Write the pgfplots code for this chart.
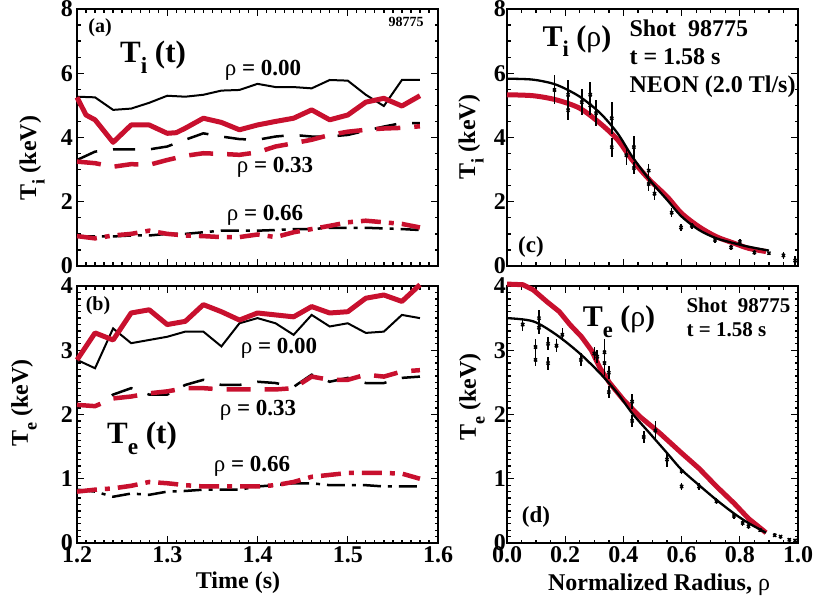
\documentclass[border=0pt]{standalone}
\usepackage{pgfplots}
\pgfplotsset{compat=1.18}
\usepackage{fontspec}
\setmainfont{Liberation Serif}
\definecolor{dred}{RGB}{200,16,46}

\newcommand{\sub}[1]{\raisebox{-0.36em}{\scalebox{0.75}{#1}}}
\newcommand{\rh}{{\mdseries ρ}}
\newcommand{\fs}[1]{\fontsize{#1}{#1}\selectfont\bfseries}

\pgfplotsset{
  panel/.style={
    scale only axis, anchor=south west,
    axis line style={line width=1.5pt},
    every tick/.style={black, line width=1.3pt},
    major tick length=7pt, minor tick length=3.5pt,
    tick align=inside,
    ticklabel style={font=\fs{24}},
    /pgf/number format/assume math mode=true,
    clip=false,
  },
  blk/.style={black, line width=2pt},
  blkdash/.style={black, line width=2.5pt, dash pattern=on 22pt off 16pt},
  blkdot/.style={black, line width=2.5pt, dash pattern=on 18pt off 7pt on 4pt off 7pt},
  rd/.style={dred, line width=5pt, line join=round},
  rddash/.style={dred, line width=4.5pt, dash pattern=on 24pt off 14pt},
  rddot/.style={dred, line width=4.5pt, dash pattern=on 20pt off 8pt on 5pt off 8pt},
}

\begin{document}
\begin{tikzpicture}[x=1pt,y=1pt]
\path[use as bounding box] (0,0) rectangle (813,603);

% (a) Ti(t)
\begin{axis}[panel, at={(77pt,337pt)}, width=361pt, height=257pt,
  xmin=1.2, xmax=1.6, ymin=0, ymax=8,
  xtick={1.2,1.3,1.4,1.5,1.6}, xticklabels={}, minor x tick num=9,
  ytick={0,2,4,6,8}, minor y tick num=3,
  yticklabel style={inner sep=1pt, xshift=-3pt}]
\addplot[blk] coordinates {
 (1.20,5.27) (1.22,5.25) (1.24,4.86) (1.26,4.90) (1.28,5.08) (1.30,5.30)
 (1.32,5.27) (1.34,5.33) (1.36,5.46) (1.38,5.48) (1.40,5.67) (1.42,5.57)
 (1.44,5.57) (1.46,5.53) (1.48,5.79) (1.50,5.77) (1.52,5.33) (1.54,4.98)
 (1.56,5.79) (1.58,5.79)};
\addplot[rd] coordinates {
 (1.20,5.25) (1.21,4.70) (1.22,4.55) (1.24,3.85) (1.26,4.39) (1.28,4.39)
 (1.30,4.13) (1.31,4.15) (1.32,4.29) (1.34,4.60) (1.36,4.47) (1.38,4.24)
 (1.40,4.39) (1.42,4.50) (1.44,4.60) (1.46,4.86) (1.48,4.55) (1.50,4.70)
 (1.52,5.10) (1.54,5.22) (1.56,4.98) (1.58,5.30)};
\addplot[blkdash] coordinates {
 (1.20,3.30) (1.22,3.56) (1.24,3.63) (1.26,3.63) (1.28,3.63) (1.30,3.72)
 (1.32,3.93) (1.34,4.13) (1.36,4.03) (1.38,3.95) (1.40,3.93) (1.42,4.03)
 (1.44,4.08) (1.46,4.03) (1.48,4.03) (1.50,4.08) (1.52,4.21) (1.54,4.34)
 (1.56,4.45) (1.58,4.45)};
\addplot[rddash] coordinates {
 (1.20,3.25) (1.22,3.20) (1.24,3.09) (1.26,3.17) (1.28,3.15) (1.30,3.30)
 (1.32,3.43) (1.34,3.51) (1.36,3.49) (1.38,3.46) (1.40,3.54) (1.42,3.72)
 (1.44,3.82) (1.46,3.93) (1.48,4.08) (1.50,4.18) (1.52,4.24) (1.54,4.28)
 (1.56,4.30) (1.58,4.35)};
\addplot[blkdot] coordinates {
 (1.20,0.93) (1.22,0.92) (1.24,0.92) (1.26,0.95) (1.28,0.95) (1.30,1.00)
 (1.32,1.00) (1.34,1.05) (1.36,1.10) (1.38,1.10) (1.40,1.10) (1.42,1.12)
 (1.44,1.15) (1.46,1.15) (1.48,1.19) (1.50,1.19) (1.52,1.19) (1.54,1.17)
 (1.56,1.15) (1.58,1.12)};
\addplot[rddot] coordinates {
 (1.20,0.93) (1.22,0.86) (1.24,0.95) (1.26,1.00) (1.28,1.10) (1.30,1.00)
 (1.32,0.95) (1.34,0.93) (1.36,0.90) (1.38,0.90) (1.40,0.98) (1.42,0.90)
 (1.44,1.05) (1.46,1.15) (1.48,1.25) (1.50,1.36) (1.52,1.41) (1.54,1.36)
 (1.56,1.31) (1.58,1.20)};
\end{axis}

% (b) Te(t)
\begin{axis}[panel, at={(77pt,60pt)}, width=361pt, height=257pt,
  xmin=1.2, xmax=1.6, ymin=0, ymax=4,
  xtick={1.2,1.3,1.4,1.5,1.6}, minor x tick num=9,
  xticklabel style={/pgf/number format/.cd, fixed, fixed zerofill, precision=1},
  ytick={0,1,2,3,4}, minor y tick num=9,
  yticklabel style={inner sep=1pt, xshift=-3pt}]
\addplot[blk] coordinates {
 (1.20,2.85) (1.22,2.72) (1.24,3.34) (1.26,3.11) (1.28,3.16) (1.30,3.21)
 (1.32,3.29) (1.34,3.29) (1.36,3.06) (1.38,3.42) (1.40,3.50) (1.42,3.42)
 (1.44,3.24) (1.46,3.55) (1.48,3.37) (1.50,3.42) (1.52,3.27) (1.54,3.29)
 (1.56,3.55) (1.58,3.50)};
\addplot[rd] coordinates {
 (1.20,2.85) (1.22,3.27) (1.24,3.16) (1.26,3.58) (1.28,3.63) (1.30,3.40)
 (1.32,3.45) (1.34,3.71) (1.36,3.60) (1.38,3.47) (1.40,3.58) (1.42,3.55)
 (1.44,3.52) (1.46,3.68) (1.48,3.58) (1.50,3.60) (1.52,3.81) (1.54,3.86)
 (1.56,3.76) (1.58,4.02)};
\addplot[blkdash] coordinates {
 (1.20,2.15) (1.22,2.13) (1.24,2.31) (1.26,2.41) (1.28,2.31) (1.30,2.31)
 (1.32,2.46) (1.34,2.54) (1.36,2.46) (1.38,2.46) (1.40,2.51) (1.42,2.49)
 (1.44,2.43) (1.46,2.62) (1.48,2.51) (1.50,2.57) (1.52,2.49) (1.54,2.49)
 (1.56,2.57) (1.58,2.59)};
\addplot[rddash] coordinates {
 (1.20,2.15) (1.22,2.13) (1.24,2.25) (1.26,2.28) (1.28,2.33) (1.30,2.36)
 (1.32,2.41) (1.34,2.41) (1.36,2.39) (1.38,2.39) (1.40,2.39) (1.42,2.39)
 (1.44,2.41) (1.46,2.59) (1.48,2.54) (1.50,2.54) (1.52,2.62) (1.54,2.59)
 (1.56,2.67) (1.58,2.69)};
\addplot[blkdot] coordinates {
 (1.20,0.83) (1.22,0.80) (1.24,0.72) (1.26,0.77) (1.28,0.75) (1.30,0.80)
 (1.32,0.81) (1.34,0.83) (1.36,0.83) (1.38,0.83) (1.40,0.88) (1.42,0.90)
 (1.44,0.93) (1.46,0.93) (1.48,0.90) (1.50,0.90) (1.52,0.90) (1.54,0.88)
 (1.56,0.88) (1.58,0.88)};
\addplot[rddot] coordinates {
 (1.20,0.80) (1.22,0.83) (1.24,0.85) (1.26,0.89) (1.28,0.95) (1.30,0.93)
 (1.32,0.90) (1.34,0.88) (1.36,0.88) (1.38,0.88) (1.40,0.88) (1.42,0.90)
 (1.44,0.95) (1.46,1.03) (1.48,1.06) (1.50,1.09) (1.52,1.09) (1.54,1.09)
 (1.56,1.08) (1.58,1.00)};
\end{axis}

% (c) Ti(rho)
\begin{axis}[panel, at={(507pt,337pt)}, width=291pt, height=257pt,
  xmin=0, xmax=1, ymin=0, ymax=8,
  xtick={0,0.2,0.4,0.6,0.8,1}, xticklabels={}, minor x tick num=3,
  ytick={0,2,4,6,8}, minor y tick num=3,
  yticklabel style={inner sep=1pt}]
\addplot[rd, smooth] coordinates {
 (0,5.33) (0.09,5.30) (0.17,5.17) (0.25,4.91) (0.32,4.44) (0.38,3.93)
 (0.43,3.30) (0.49,2.68) (0.55,2.16) (0.60,1.64) (0.66,1.22) (0.72,0.91)
 (0.78,0.71) (0.83,0.55) (0.89,0.45)};
\addplot[blk, line width=2.3pt, smooth] coordinates {
 (0,5.83) (0.09,5.80) (0.17,5.64) (0.25,5.27) (0.32,4.76) (0.38,4.13)
 (0.43,3.41) (0.49,2.68) (0.55,2.06) (0.60,1.54) (0.66,1.12) (0.72,0.86)
 (0.78,0.71) (0.83,0.60) (0.90,0.48)};
\addplot[black, only marks, mark=x, mark size=2.2pt, line width=1.5pt,
  error bars/.cd, y dir=both, y explicit, error bar style={line width=1.5pt}, error mark=none]
  table[x=r, y=t, y error=e] {
 r t e
 0.163 5.48 0.45
 0.21 5.33 0.45
 0.21 4.85 0.30
 0.257 5.10 0.40
 0.286 5.33 0.40
 0.286 5.00 0.30
 0.306 4.76 0.40
 0.36 4.60 0.50
 0.36 3.70 0.30
 0.41 3.45 0.30
 0.436 3.70 0.35
 0.436 3.05 0.20
 0.487 2.97 0.20
 0.487 2.55 0.20
 0.507 2.25 0.20
 0.566 1.66 0.15
 0.598 1.20 0.12
 0.635 1.25 0.10
 0.715 0.81 0.08
 0.77 0.58 0.08
 0.80 0.75 0.08
 0.85 0.42 0.08
 0.90 0.40 0.05
 0.95 0.33 0.10
 0.99 0.17 0.15
 };
\end{axis}

% (d) Te(rho)
\begin{axis}[panel, at={(507pt,60pt)}, width=291pt, height=257pt,
  xmin=0, xmax=1, ymin=0, ymax=4,
  xtick={0,0.2,0.4,0.6,0.8,1}, minor x tick num=3,
  xticklabel style={/pgf/number format/.cd, fixed, fixed zerofill, precision=1},
  ytick={0,1,2,3,4}, minor y tick num=9,
  yticklabel style={inner sep=1pt}]
\addplot[rd] coordinates {
 (0,4.03) (0.055,4.02) (0.09,3.94) (0.136,3.76) (0.18,3.60) (0.216,3.40)
 (0.256,3.21) (0.29,3.00) (0.32,2.72) (0.353,2.49) (0.40,2.23) (0.456,1.97)
 (0.525,1.71) (0.60,1.40) (0.66,1.16) (0.72,0.88) (0.78,0.62) (0.83,0.38)
 (0.89,0.16)};
\addplot[blk, line width=2.3pt, smooth] coordinates {
 (0,3.50) (0.09,3.45) (0.17,3.24) (0.25,2.95) (0.32,2.64) (0.38,2.33)
 (0.43,2.02) (0.49,1.71) (0.55,1.40) (0.60,1.14) (0.66,0.90) (0.72,0.67)
 (0.78,0.46) (0.83,0.31) (0.89,0.16)};
\addplot[black, only marks, mark=x, mark size=2.2pt, line width=1.5pt,
  error bars/.cd, y dir=both, y explicit, error bar style={line width=1.5pt}, error mark=none]
  table[x=r, y=t, y error=e] {
 r t e
 0.054 3.40 0.10
 0.098 3.05 0.12
 0.098 2.85 0.10
 0.11 3.50 0.12
 0.11 3.35 0.10
 0.141 3.10 0.10
 0.141 2.80 0.10
 0.17 3.07 0.10
 0.19 3.24 0.10
 0.254 2.85 0.10
 0.30 2.95 0.10
 0.31 2.90 0.10
 0.335 2.97 0.20
 0.335 2.80 0.20
 0.35 2.65 0.10
 0.35 2.35 0.10
 0.43 2.20 0.12
 0.43 1.90 0.10
 0.47 1.65 0.10
 0.51 1.75 0.15
 0.55 1.30 0.12
 0.60 0.88 0.05
 0.60 1.12 0.05
 0.66 0.88 0.05
 0.72 0.65 0.05
 0.78 0.42 0.05
 0.81 0.31 0.05
 0.83 0.26 0.04
 0.87 0.20 0.03
 0.92 0.12 0.03
 0.94 0.10 0.03
 0.97 0.05 0.03
 0.99 0.04 0.03
 };
\end{axis}

% labels and annotations
\node[rotate=90, font=\fs{24}] at (32,445) {T\sub{i} (keV)};
\node[rotate=90, font=\fs{24}] at (24,200) {T\sub{e} (keV)};
\node[rotate=90, font=\fs{24}] at (471,466) {T\sub{i} (keV)};
\node[rotate=90, font=\fs{24}] at (472,206) {T\sub{e} (keV)};
\node[font=\fs{24}] at (238,20) {Time (s)};
\node[font=\fs{24}] at (659,18) {Normalized Radius, \rh};

\node[font=\fs{20}] at (100,575) {(a)};
\node[font=\fs{14}] at (406,581) {98775};
\node[font=\fs{31}] at (153,546) {T\sub{i} (t)};
\node[font=\fs{23}] at (263,533) {\rh{} = 0.00};
\node[font=\fs{23}] at (275,436) {\rh{} = 0.33};
\node[font=\fs{23}] at (265,388) {\rh{} = 0.66};

\node[font=\fs{20}] at (98,297) {(b)};
\node[font=\fs{23}] at (279,255) {\rh{} = 0.00};
\node[font=\fs{23}] at (258,193) {\rh{} = 0.33};
\node[font=\fs{31}] at (142,165) {T\sub{e} (t)};
\node[font=\fs{23}] at (252,137) {\rh{} = 0.66};

\node[font=\fs{30}] at (577,562) {T\sub{i} (\rh)};
\node[font=\fs{24}, anchor=west] at (626,575) {Shot\ \ 98775};
\node[font=\fs{24}, anchor=west] at (626,546) {t = 1.58 s};
\node[font=\fs{24}, anchor=west] at (626,516) {NEON (2.0 Tl/s)};
\node[font=\fs{23}] at (531,356) {(c)};

\node[font=\fs{30}] at (619,281) {T\sub{e} (\rh)};
\node[font=\fs{21}, anchor=west] at (683,298) {Shot\ \ 98775};
\node[font=\fs{21}, anchor=west] at (683,273) {t = 1.58 s};
\node[font=\fs{23}] at (536,86) {(d)};
\end{tikzpicture}
\end{document}
